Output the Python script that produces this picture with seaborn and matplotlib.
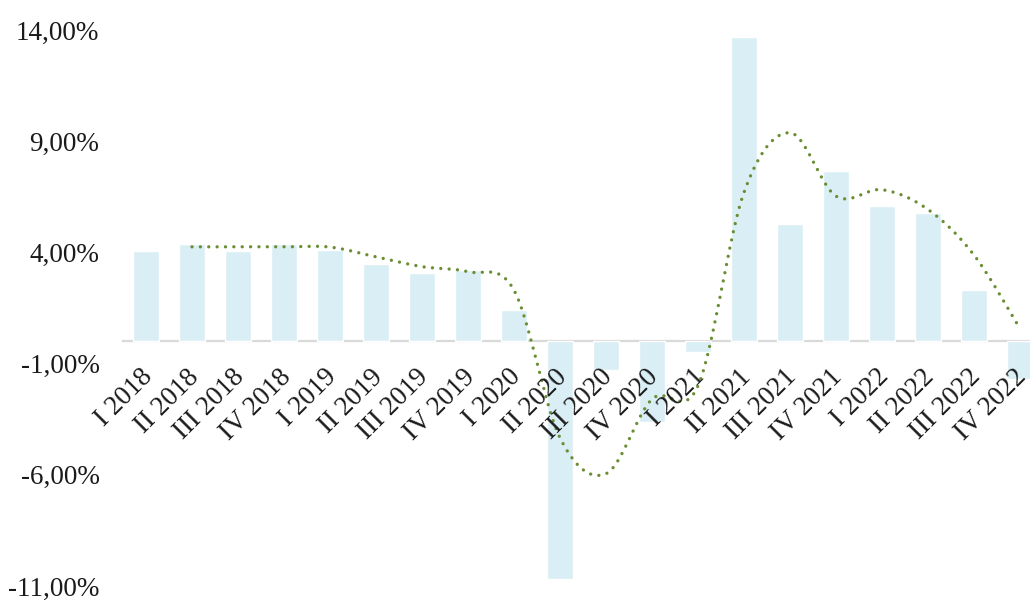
import glob
import os
import numpy as np
import matplotlib
matplotlib.use('Agg')
import matplotlib.pyplot as plt
import matplotlib.transforms as mtransforms
from matplotlib import font_manager
import seaborn as sns

QUARTERS = [
    'I 2018', 'II 2018', 'III 2018', 'IV 2018',
    'I 2019', 'II 2019', 'III 2019', 'IV 2019',
    'I 2020', 'II 2020', 'III 2020', 'IV 2020',
    'I 2021', 'II 2021', 'III 2021', 'IV 2021',
    'I 2022', 'II 2022', 'III 2022', 'IV 2022',
]

# quarterly growth (bars), percent
GROWTH = [4.07, 4.37, 4.07, 4.37, 4.10, 3.50, 3.09, 3.19, 1.39, -10.68,
          -1.29, -3.61, -0.48, 13.67, 5.28, 7.67, 6.08, 5.78, 2.30, -1.69]

# moving average (dotted line), starts at II 2018
AVG_START = 1
AVG = [4.25, 4.25, 4.25, 4.24, 3.80, 3.36, 3.13, 2.30, -4.34,
       -5.95, -2.60, -2.00, 6.70, 9.38, 6.53, 6.82, 5.93, 3.88, 0.57]

Y_TICKS = [14, 9, 4, -1, -6, -11]

BAR_COLOR = '#DAEEF5'
LINE_COLOR = '#6B8E34'
AXIS_COLOR = '#D9D9D9'
TEXT_COLOR = '#1a1a1a'


def pick_serif():
    '''
    register any Times-like font file found on disk, return its family
    '''
    patterns = ['LiberationSerif*', 'Tinos*', 'times*', 'Times*',
                'NimbusRom*', 'FreeSerif*']
    dirs = ['/usr/share/fonts', '/usr/local/share/fonts',
            os.path.expanduser('~/.fonts'),
            os.path.expanduser('~/.local/share/fonts')]
    for pat in patterns:
        for d in dirs:
            for path in glob.glob(os.path.join(d, '**', pat), recursive=True):
                if path.lower().endswith(('.ttf', '.otf')):
                    try:
                        font_manager.fontManager.addfont(path)
                    except Exception:
                        pass
    names = {f.name for f in font_manager.fontManager.ttflist}
    for name in ['Liberation Serif', 'Times New Roman', 'Tinos',
                 'Nimbus Roman', 'FreeSerif']:
        if name in names:
            return name
    return 'DejaVu Serif'


def smooth(xs, ys, n=30):
    '''
    Catmull-Rom smoothing, like a spreadsheet "smoothed line"
    '''
    xs = np.asarray(xs, float)
    ys = np.asarray(ys, float)
    px = np.concatenate([[xs[0]], xs, [xs[-1]]])
    py = np.concatenate([[ys[0]], ys, [ys[-1]]])
    out_x, out_y = [], []
    t = np.linspace(0, 1, n, endpoint=False)
    for i in range(1, len(px) - 2):
        for arr, out in ((px, out_x), (py, out_y)):
            p0, p1, p2, p3 = arr[i - 1], arr[i], arr[i + 1], arr[i + 2]
            out.extend(0.5 * (2 * p1 + (-p0 + p2) * t
                              + (2 * p0 - 5 * p1 + 4 * p2 - p3) * t ** 2
                              + (-p0 + 3 * p1 - 3 * p2 + p3) * t ** 3))
    out_x.append(xs[-1])
    out_y.append(ys[-1])
    return np.array(out_x), np.array(out_y)


sns.set_theme(style='white')
SERIF = pick_serif()
plt.rcParams['font.family'] = [SERIF, 'DejaVu Serif']
FS = 19.5 if SERIF != 'DejaVu Serif' else 16

fig = plt.figure(figsize=(10.3, 6.01), dpi=100)
ax = fig.add_axes([123 / 1030, 15 / 601, 907 / 1030, 556 / 601])

sns.barplot(x=QUARTERS, y=GROWTH, color=BAR_COLOR, saturation=1,
            width=0.57, ax=ax)

avg_x = np.arange(AVG_START, AVG_START + len(AVG))
sx, sy = smooth(avg_x, AVG)
sns.lineplot(x=sx, y=sy, color=LINE_COLOR, linewidth=2.4, sort=False,
             linestyle=(0, (0.01, 2.5)), dash_capstyle='round', ax=ax)

ax.set_ylim(-11, 14)
ax.set_xlim(-0.5, -0.5 + 907 / 46)
ax.set_yticks(Y_TICKS)
ax.set_yticklabels([f'{v:.2f}%'.replace('.', ',') for v in Y_TICKS],
                   fontsize=FS, color=TEXT_COLOR)

for side in ['top', 'right', 'left']:
    ax.spines[side].set_visible(False)
ax.spines['bottom'].set_position(('data', 0))
ax.spines['bottom'].set_color(AXIS_COLOR)
ax.spines['bottom'].set_linewidth(1.6)
ax.spines['bottom'].set_zorder(0.5)

ax.tick_params(axis='y', length=0, pad=17)
ax.tick_params(axis='x', length=0, labelbottom=False)

# category labels sit under the zero line, rotated like the spreadsheet
offset = mtransforms.ScaledTranslation(-6 / 100, -23 / 100, fig.dpi_scale_trans)
for i, lab in enumerate(QUARTERS):
    ax.text(i, 0, lab, transform=ax.transData + offset, rotation=45,
            rotation_mode='anchor', ha='right', va='top', fontsize=FS,
            color=TEXT_COLOR, clip_on=False)

ax.set_xlabel('')
ax.set_ylabel('')
ax.grid(False)

fig.savefig('out.png', dpi=100)
